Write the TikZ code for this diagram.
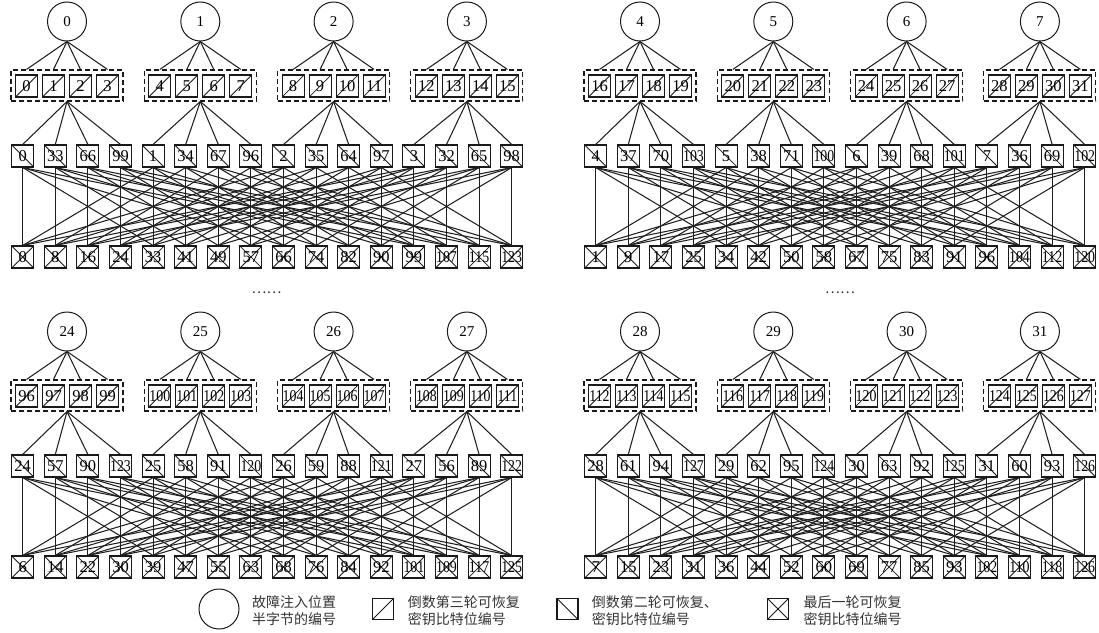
\documentclass[tikz,border=0pt]{standalone}
\usepackage{fontspec}
\setmainfont{Liberation Serif}
\newfontfamily\cjk{Noto Sans CJK SC}
\usepackage{graphicx}
\newcommand{\bitnum}[1]{\ifnum#1>99 \scalebox{0.84}[1]{#1}\else #1\fi}
\tikzset{
  ln/.style={line width=1.05pt, draw=black!88},
  circ/.style={circle, draw=black!90, line width=1pt, minimum size=39pt, inner sep=0pt, font=\fontsize{15}{15}\selectfont},
  grp/.style={draw=black!90, dash pattern=on 5pt off 3pt, line width=1.1pt, minimum width=112pt, minimum height=31pt, inner sep=0pt},
  boxbase/.style={draw=black!90, line width=1.1pt, inner sep=0pt, minimum size=22pt, font=\fontsize{16.5}{16.5}\selectfont},
  fwdbox/.style={boxbase, path picture={\draw[line width=0.85pt] (path picture bounding box.south west) -- (path picture bounding box.north east);}},
  backbox/.style={boxbase, path picture={\draw[line width=0.85pt] (path picture bounding box.north west) -- (path picture bounding box.south east);}},
  crossbox/.style={boxbase, path picture={\draw[line width=0.85pt] (path picture bounding box.north west) -- (path picture bounding box.south east) (path picture bounding box.south west) -- (path picture bounding box.north east);}},
  legtext/.style={anchor=west, align=left, inner sep=0pt, text=black!80, font=\cjk\fontsize{14}{17.5}\selectfont},
  dotstext/.style={inner sep=0pt, text=black!80, font=\cjk\fontsize{14}{14}\selectfont}
}
\newcommand{\gblock}[6]{%
  \foreach \c [count=\i from 0] in {#4} {
    \pgfmathsetmacro{\cx}{#2+67+133.3*\i}
    \node[circ] (#1c\i) at (\cx, #3+21.5) {\c};
    \node[grp] (#1g\i) at (\cx, #3+85.5) {};
    \foreach \j in {0,...,3} {
      \pgfmathtruncatemacro{\lab}{4*\c+\j}
      \node[fwdbox] (#1s\i\j) at (\cx+27*\j-40.5, #3+86) {\bitnum{\lab}};
      \draw[ln] (#1c\i.south) -- (#1s\i\j.north |- #1g\i.north);
    }
  }
  \foreach \m [count=\p from 0] in {#5} {
    \node[backbox] (#1m\p) at (#2+22.7+32.6*\p, #3+156) {\bitnum{\m}};
  }
  \foreach \b [count=\p from 0] in {#6} {
    \node[crossbox] (#1b\p) at (#2+22.7+32.6*\p, #3+257) {\bitnum{\b}};
  }
  \foreach \i in {0,...,3} {
    \foreach \j in {0,...,3} {
      \pgfmathtruncatemacro{\p}{4*\i+\j}
      \draw[ln] (#1g\i.south) -- (#1m\p.north);
    }
  }
  \foreach \p in {0,...,15} {
    \foreach \k in {0,...,3} {
      \pgfmathtruncatemacro{\q}{mod(\p,4)+4*\k}
      \draw[ln] (#1m\p.south) -- (#1b\q.north);
    }
  }
}
\begin{document}
\begin{tikzpicture}[x=1pt, y=-1pt]
\useasboundingbox (0,0) rectangle (1099,632);
\gblock{A}{0}{0}{0,1,2,3}{0,33,66,99,1,34,67,96,2,35,64,97,3,32,65,98}{0,8,16,24,33,41,49,57,66,74,82,90,99,107,115,123}
\gblock{B}{573}{0}{4,5,6,7}{4,37,70,103,5,38,71,100,6,39,68,101,7,36,69,102}{1,9,17,25,34,42,50,58,67,75,83,91,96,104,112,120}
\gblock{C}{0}{310}{24,25,26,27}{24,57,90,123,25,58,91,120,26,59,88,121,27,56,89,122}{6,14,22,30,39,47,55,63,68,76,84,92,101,109,117,125}
\gblock{D}{573}{310}{28,29,30,31}{28,61,94,127,29,62,95,124,30,63,92,125,31,60,93,126}{7,15,23,31,36,44,52,60,69,77,85,93,102,110,118,126}
\node[dotstext] (dotsL) at (266.5,293) {……};
\node[dotstext] (dotsR) at (840,293) {……};
\node[circ, minimum size=40pt] (legc) at (219,609) {};
\node[legtext] (legct) at (252,610.5) {故障注入位置\\半字节的编号};
\node[fwdbox, minimum size=21pt] (legf) at (383,609) {};
\node[legtext] (legft) at (407.7,610.5) {倒数第三轮可恢复\\密钥比特位编号};
\node[backbox, minimum size=21pt] (legb) at (567.5,609) {};
\node[legtext] (legbt) at (591.7,610.5) {倒数第二轮可恢复、\\密钥比特位编号};
\node[crossbox, minimum size=21pt] (legx) at (778,609) {};
\node[legtext] (legxt) at (803.3,610.5) {最后一轮可恢复\\密钥比特位编号};
\end{tikzpicture}
\end{document}
